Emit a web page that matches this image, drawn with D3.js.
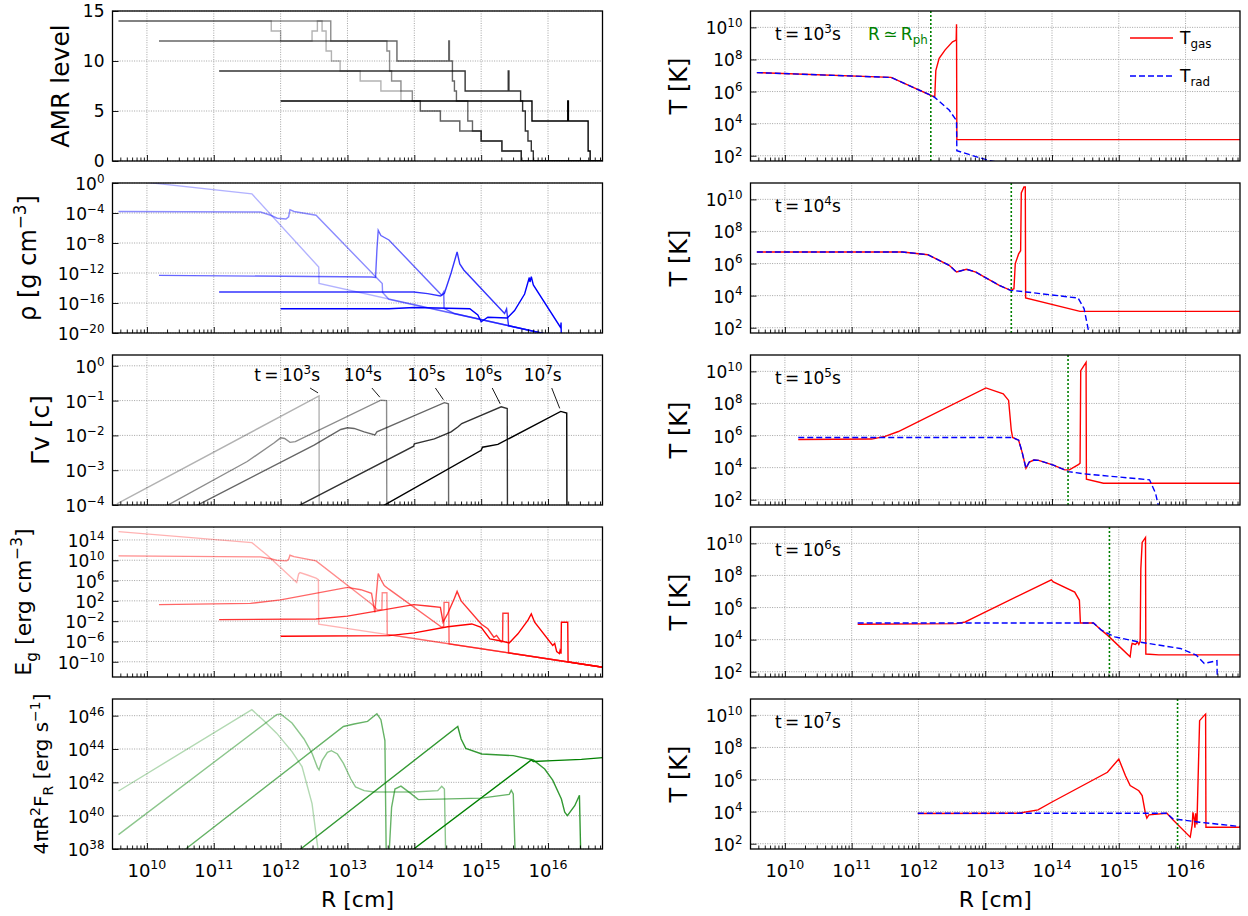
<!DOCTYPE html>
<html><head><meta charset="utf-8">
<script src="https://cdn.jsdelivr.net/npm/d3@7"></script>
<style>
body{margin:0;background:#fff}
svg{display:block}
text{font-family:"DejaVu Sans",sans-serif;fill:#000}
</style>
</head><body>
<svg id="fig" width="1248" height="916"></svg>
<script>
// ---------- snapshot times (log10 t [s]) and shared styling per snapshot ----------
const snapTimes = ["3", "4", "5", "6", "7"];
const snapAlpha = [0.3, 0.45, 0.6, 0.8, 1.0];

// ---------- AMR level vs log10 R [cm] (step-after) ----------
const amr_t3 = [[9.575,14],[11.86,13],[12.0,12],[12.47,13],[12.55,14],[12.62,13],[12.68,11],[12.76,10],[12.89,9],[13.19,8],[13.5,7],[13.8,6],[14.09,5],[14.39,4],[14.68,3],[15.0,2],[15.31,1],[15.6,0],[16.9,0]];
const amr_t4 = [[9.575,14],[12.75,12],[13.59,11],[13.63,9],[13.66,8],[13.8,7],[13.97,6],[14.09,5],[14.39,4],[14.68,3],[15.0,2],[15.31,1],[15.6,0],[16.9,0]];
const amr_t5 = [[10.18,12],[13.74,10],[14.515,12],[14.525,10],[14.57,8],[14.6,7],[14.63,6],[14.8,4],[14.87,3],[15.0,2],[15.31,1],[15.6,0],[16.9,0]];
const amr_t6 = [[11.08,9],[14.76,7],[15.405,9],[15.415,7],[15.59,6],[15.62,5],[15.66,3],[15.7,2],[15.75,1],[15.78,0],[16.9,0]];
const amr_t7 = [[12.0,6],[15.76,4],[16.295,6],[16.305,4],[16.6,1],[16.63,0],[16.9,0]];

// ---------- density: [log10 R, log10 rho] ----------
const rho_t3 = [[9.575,0.5],[11.57,-1.45],[12.57,-11.2],[12.575,-13.4],[16.0,-20.2]];
const rho_t4 = [[9.575,-3.8],[11.7,-3.87],[11.85,-4.3],[11.95,-4.7],[12.08,-4.8],[12.12,-4.5],[12.14,-3.56],[12.2,-3.8],[12.53,-4.3],[13.52,-13.4],[13.525,-14.6],[13.62,-15.5],[16.0,-20.2]];
const rho_t5 = [[10.18,-12.31],[13.36,-12.53],[13.42,-12.6],[13.44,-9.0],[13.46,-6.3],[13.5,-7.0],[13.62,-7.6],[14.41,-14.98],[14.44,-14.5],[14.445,-16.7],[14.6,-17.4],[16.0,-20.2]];
const rho_t6 = [[11.08,-14.53],[13.99,-14.53],[14.2,-14.75],[14.39,-15.07],[14.45,-14.7],[14.55,-12.0],[14.64,-9.2],[14.68,-10.8],[14.74,-11.6],[15.35,-17.4],[15.38,-16.8],[15.39,-17.6],[15.41,-19.04],[16.0,-20.2]];
const rho_t7 = [[12.0,-16.76],[13.62,-16.76],[14.0,-16.6],[14.5,-16.7],[14.83,-16.76],[14.95,-17.6],[15.0,-18.5],[15.1,-17.9],[15.39,-18.0],[15.5,-17.0],[15.65,-14.8],[15.72,-12.6],[15.73,-13.2],[15.75,-12.5],[15.78,-13.6],[16.19,-19.3],[16.195,-18.6],[16.2,-21]];

// ---------- four-velocity: [log10 R, log10 (Gamma v / c)] ----------
const gv_t3 = [[9.55,-3.97],[12.575,-0.865],[12.578,-6]];
const gv_t4 = [[10.25,-4.07],[11.5,-2.75],[11.9,-2.22],[12.0,-2.07],[12.06,-2.09],[12.14,-2.2],[12.22,-2.18],[13.5,-0.99],[13.585,-1.0],[13.59,-6]];
const gv_t5 = [[10.7,-4.06],[12.5,-2.28],[12.9,-1.83],[13.0,-1.78],[13.1,-1.8],[13.25,-1.9],[13.41,-1.99],[13.44,-1.9],[14.45,-1.06],[14.51,-1.09],[14.515,-6]];
const gv_t6 = [[12.23,-4.06],[13.99,-2.31],[14.0,-2.24],[14.3,-2.1],[14.55,-1.9],[14.65,-1.76],[14.71,-1.66],[15.3,-1.18],[15.39,-1.23],[15.395,-6]];
const gv_t7 = [[13.5,-4.06],[15.0,-2.43],[15.02,-2.34],[15.25,-2.26],[16.19,-1.31],[16.28,-1.36],[16.285,-6]];

// ---------- radiation energy density: [log10 R, log10 E_g] ----------
const eg_t3 = [[9.575,15.63],[11.57,13.48],[11.8,11.0],[12.24,5.63],[12.27,7.3],[12.29,7.59],[12.4,7.1],[12.53,6.48],[12.565,6.2],[12.57,-2.6],[16.82,-11.07]];
const eg_t4 = [[9.575,10.86],[11.7,10.66],[11.85,10.3],[11.94,10.0],[12.09,9.88],[12.12,10.2],[12.14,10.99],[12.2,10.7],[12.53,9.88],[13.36,1.38],[13.45,0.2],[13.515,0.3],[13.52,3.6],[13.59,3.6],[13.595,-4.6],[16.82,-11.07]];
const eg_t5 = [[10.18,1.25],[11.55,1.5],[12.0,2.2],[13.0,4.65],[13.2,4.2],[13.36,3.47],[13.41,-0.26],[13.43,3.0],[13.46,7.4],[13.5,6.2],[13.55,5.0],[13.62,4.3],[14.41,-3.2],[14.44,-3.0],[14.445,1.7],[14.515,1.7],[14.52,-6.47],[16.82,-11.07]];
const eg_t6 = [[11.08,-1.7],[12.53,-1.57],[13.0,-1.0],[13.99,1.25],[14.2,1.0],[14.39,0.72],[14.43,-2.2],[14.5,-0.5],[14.6,2.5],[14.64,3.86],[14.7,2.0],[15.0,-2.55],[15.1,-3.5],[15.19,-5.16],[15.23,-4.8],[15.3,-6.1],[15.32,-6.0],[15.325,-0.45],[15.405,-0.45],[15.41,-8.25],[16.82,-11.07]];
const eg_t7 = [[12.0,-4.97],[13.62,-4.84],[14.0,-4.3],[14.5,-3.1],[14.86,-2.55],[15.0,-3.2],[15.13,-5.5],[15.3,-5.9],[15.42,-6.3],[15.55,-4.5],[15.7,-1.8],[15.75,-0.58],[15.8,-2.2],[16.07,-6.8],[16.1,-6.4],[16.13,-8.0],[16.17,-8.4],[16.18,-7.8],[16.195,-8.4],[16.2,-2.2],[16.295,-2.2],[16.3,-10.03],[16.82,-11.07]];

// ---------- radiative luminosity: [log10 R, log10 4 pi R^2 F_R] ----------
const lum_t3 = [[9.575,41.48],[11.57,46.36],[11.75,45.7],[11.94,44.95],[12.17,43.84],[12.32,42.94],[12.47,40.72],[12.575,37.5]];
const lum_t4 = [[9.575,38.86],[11.94,46.06],[12.0,46.1],[12.17,45.56],[12.35,44.6],[12.47,43.74],[12.55,42.9],[12.575,42.75],[12.62,43.3],[12.7,43.8],[12.76,43.9],[12.85,43.7],[12.94,43.14],[13.05,42.2],[13.12,41.73],[13.25,41.5],[13.4,41.42],[14.0,41.42],[14.35,41.5],[14.41,41.77],[14.45,41.6],[14.47,37.5]];
const lum_t5 = [[10.58,38],[12.94,45.35],[13.1,45.5],[13.3,45.66],[13.44,46.12],[13.5,45.76],[13.56,44.5],[13.58,37.5],[13.62,37.5],[13.66,40.5],[13.71,41.6],[13.8,41.77],[13.95,41.32],[14.06,40.96],[15.0,41.05],[15.42,41.28],[15.45,41.52],[15.48,41.3],[15.51,37.5]];
const lum_t6 = [[12.3,38],[14.65,45.35],[14.7,44.6],[14.77,44.04],[15.01,43.7],[15.48,43.6],[15.78,43.34],[15.95,42.8],[16.07,42.13],[16.2,41.0],[16.25,40.21],[16.29,40.0],[16.4,40.6],[16.47,41.22],[16.49,37.5]];
const lum_t7 = [[13.99,38],[15.75,43.34],[15.78,43.25],[16.07,43.3],[16.5,43.38],[16.82,43.48]];

// ---------- temperatures: [log10 R, log10 T] ----------
const trad_t3 = [[9.58,7.18],[11.59,6.88],[12.23,5.68],[12.46,4.85],[12.57,4.18],[12.575,2.31],[13.03,1.73],[13.3,1.5]];
const tgas_t3 = [[9.58,7.18],[11.59,6.88],[12.23,5.68],[12.245,5.7],[12.26,7.3],[12.31,8.07],[12.4,8.6],[12.51,9.1],[12.565,9.21],[12.57,10.2],[12.575,3.0],[16.82,3.0]];
const trad_t4 = [[9.58,6.72],[11.76,6.72],[12.14,6.55],[12.46,5.89],[12.57,5.47],[12.72,5.64],[12.86,5.47],[13.03,5.06],[13.21,4.64],[13.38,4.33],[13.61,4.23],[14.39,3.85],[14.48,3.19],[14.54,1.94],[14.56,1.5]];
const tgas_t4 = [[9.58,6.72],[11.76,6.72],[12.14,6.55],[12.46,5.89],[12.57,5.47],[12.72,5.64],[12.86,5.47],[13.03,5.06],[13.21,4.64],[13.38,4.33],[13.43,4.43],[13.45,6.0],[13.5,6.6],[13.53,6.8],[13.54,10.4],[13.58,10.77],[13.6,10.77],[13.605,3.85],[14.42,3.02],[16.82,3.02]];
const trad_t5 = [[10.2,5.88],[13.03,5.88],[13.41,5.88],[13.5,5.71],[13.55,5.0],[13.61,3.96],[13.66,4.35],[13.73,4.47],[13.8,4.45],[14.02,4.16],[14.19,3.86],[14.25,3.75],[14.48,3.61],[15.46,3.24],[15.55,2.41],[15.6,1.5]];
const tgas_t5 = [[10.2,5.75],[11.3,5.78],[11.5,5.95],[11.7,6.25],[13.01,8.97],[13.27,8.6],[13.35,8.19],[13.39,6.33],[13.41,5.88],[13.5,5.71],[13.55,5.0],[13.61,3.96],[13.66,4.35],[13.73,4.47],[13.8,4.45],[14.02,4.16],[14.19,3.86],[14.26,3.86],[14.4,4.2],[14.42,4.28],[14.43,10.04],[14.51,10.56],[14.515,3.28],[14.77,3.03],[16.82,3.03]];
const trad_t6 = [[11.09,5.04],[14.62,5.04],[14.74,4.59],[14.94,4.17],[15.29,3.86],[15.92,3.45],[16.16,3.04],[16.28,2.52],[16.47,2.69],[16.475,1.5]];
const tgas_t6 = [[11.09,4.96],[12.57,5.0],[12.7,5.1],[12.8,5.31],[13.99,7.73],[14.02,7.6],[14.34,6.96],[14.41,6.45],[14.425,5.04],[14.62,5.04],[14.74,4.59],[14.83,4.28],[15.17,2.93],[15.19,3.6],[15.2,3.76],[15.25,3.7],[15.28,3.85],[15.3,3.7],[15.32,3.9],[15.33,8.41],[15.35,10.06],[15.4,10.37],[15.405,3.1],[15.6,3.05],[16.82,3.05]];
const trad_t7 = [[11.99,3.9],[15.72,3.9],[15.81,3.55],[16.21,3.34],[16.82,3.07]];
const tgas_t7 = [[11.99,3.88],[13.5,3.9],[13.79,4.11],[14.0,4.6],[14.83,6.45],[15.0,7.28],[15.1,6.24],[15.17,5.62],[15.3,5.3],[15.35,5.0],[15.4,3.86],[15.42,3.6],[15.45,3.8],[15.72,3.9],[15.81,3.5],[16.07,2.41],[16.1,3.2],[16.11,3.96],[16.13,3.5],[16.14,3.0],[16.15,3.9],[16.17,3.2],[16.21,9.67],[16.28,10.0],[16.3,10.08],[16.305,3.03],[16.82,3.03]];

// photospheric radius (log10 R) per snapshot
const photoR = [12.185, 13.39, 14.24, 14.86, 15.88];

// axis tick values
const xDecades = [10, 11, 12, 13, 14, 15, 16];
const amrTicks = [0, 5, 10, 15];
const rhoTicks = [0, -4, -8, -12, -16, -20];
const gvTicks = [0, -1, -2, -3, -4];
const egTicks = [14, 10, 6, 2, -2, -6, -10];
const lumTicks = [46, 44, 42, 40, 38];
const tTicks = [10, 8, 6, 4, 2];

// ---------- layout ----------
const PH = 150;
const tops = [11, 183, 355, 527, 699];
const colL = [112.5, 602.5], colR = [750.5, 1240];
const xDom = [Math.pow(10, 9.485), Math.pow(10, 16.815)];
const FS = 17;          // tick-label size

const svg = d3.select("#fig");
const defs = svg.append("defs");
let clipCount = 0;

// writes mixed normal / superscript / subscript runs into a text element
function rich(textSel, parts, size) {
  let shift = 0;
  parts.forEach(p => {
    const target = p.sup ? -0.42 * size : p.sub ? 0.25 * size : 0;
    textSel.append("tspan")
      .attr("dy", target - shift)
      .attr("font-size", (p.sup || p.sub) ? 0.7 * size : size)
      .text(p.t);
    shift = target;
  });
  return textSel;
}
const minus = s => String(s).replace("-", "\u2212");
const pow10 = e => [{t: "10"}, {t: minus(e), sup: true}];

function panel(col, top, y, yTicks, yIsLog, ylab, bottom) {
  const x = d3.scaleLog().domain(xDom).range(col);
  const g = svg.append("g");
  const cid = "clip" + (clipCount++);
  defs.append("clipPath").attr("id", cid).append("rect")
    .attr("x", col[0]).attr("y", top).attr("width", col[1] - col[0]).attr("height", PH);

  // dotted grid
  const grid = g.append("g").attr("stroke", "#9a9a9a").attr("stroke-width", 0.9)
    .attr("stroke-dasharray", "1,1.4");
  xDecades.forEach(d => grid.append("line")
    .attr("x1", x(Math.pow(10, d))).attr("x2", x(Math.pow(10, d)))
    .attr("y1", top).attr("y2", top + PH));
  yTicks.forEach(v => {
    const yy = y(yIsLog ? Math.pow(10, v) : v);
    grid.append("line").attr("x1", col[0]).attr("x2", col[1]).attr("y1", yy).attr("y2", yy);
  });

  const plot = g.append("g").attr("clip-path", `url(#${cid})`);

  // bottom ticks (major + minor), pointing inward
  const xTickVals = [];
  for (let d = 9; d <= 16; d++) for (let k = 1; k <= 9; k++) {
    const v = k * Math.pow(10, d);
    if (v >= xDom[0] && v <= xDom[1]) xTickVals.push(v);
  }
  const isMajor = v => Math.abs(Math.log10(v) - Math.round(Math.log10(v))) < 1e-9;
  const ax = g.append("g").attr("transform", `translate(0,${top + PH})`)
    .call(d3.axisBottom(x).tickValues(xTickVals).tickSizeInner(-6).tickSizeOuter(0).tickFormat(""));
  ax.select(".domain").remove();
  ax.selectAll(".tick line").attr("y2", d => isMajor(d) ? -6 : -3.5).attr("stroke", "#000").attr("stroke-width", 0.9);

  const ay = g.append("g").attr("transform", `translate(${col[0]},0)`)
    .call(d3.axisLeft(y).tickValues(yTicks.map(v => yIsLog ? Math.pow(10, v) : v))
      .tickSizeInner(-6).tickSizeOuter(0).tickFormat(""));
  ay.select(".domain").remove();
  ay.selectAll(".tick line").attr("stroke", "#000").attr("stroke-width", 0.9);

  // y tick labels
  yTicks.forEach(v => {
    const yy = y(yIsLog ? Math.pow(10, v) : v);
    const t = g.append("text").attr("x", col[0] - 8).attr("y", yy + (yIsLog ? 7 : 6))
      .attr("text-anchor", "end").attr("font-size", FS);
    rich(t, yIsLog ? pow10(v) : [{t: String(v)}], FS);
  });

  // x tick labels on the bottom row
  if (bottom) {
    xDecades.forEach(d => {
      const t = g.append("text").attr("x", x(Math.pow(10, d))).attr("y", top + PH + 28)
        .attr("text-anchor", "middle").attr("font-size", FS + 1);
      rich(t, pow10(d), FS + 1);
    });
    const t = g.append("text").attr("x", (col[0] + col[1]) / 2).attr("y", top + PH + 58)
      .attr("text-anchor", "middle").attr("font-size", 22);
    rich(t, [{t: "R [cm]"}], 22);
  }

  // y label (baseline position and size per panel)
  const lab = g.append("text")
    .attr("transform", `translate(${ylab.x},${top + PH / 2}) rotate(-90)`)
    .attr("text-anchor", "middle").attr("font-size", ylab.size);
  rich(lab, ylab.parts, ylab.size);

  // frame
  g.append("rect").attr("x", col[0]).attr("y", top).attr("width", col[1] - col[0]).attr("height", PH)
    .attr("fill", "none").attr("stroke", "#000").attr("stroke-width", 1.3);

  return {x, y, plot, g};
}

const logLine = (x, y) => d3.line().x(d => x(Math.pow(10, d[0]))).y(d => y(Math.pow(10, d[1])));

// ---------- AMR level ----------
{
  const y = d3.scaleLinear().domain([0, 15]).range([tops[0] + PH, tops[0]]);
  const p = panel(colL, tops[0], y, amrTicks, false,
    {x: 69, size: 25, parts: [{t: "AMR level"}]}, false);
  const line = d3.line().x(d => p.x(Math.pow(10, d[0]))).y(d => y(d[1])).curve(d3.curveStepAfter);
  [amr_t3, amr_t4, amr_t5, amr_t6, amr_t7].forEach((s, i) =>
    p.plot.append("path").attr("d", line(s)).attr("fill", "none")
      .attr("stroke", "#000").attr("stroke-opacity", snapAlpha[i]).attr("stroke-width", 1.4));
}

// ---------- density ----------
{
  const y = d3.scaleLog().domain([1e-20, 1]).range([tops[1] + PH, tops[1]]);
  const p = panel(colL, tops[1], y, rhoTicks, true,
    {x: 36, size: 24, parts: [{t: "\u03C1 [g cm"}, {t: "\u22123", sup: true}, {t: "]"}]}, false);
  const line = logLine(p.x, y);
  [rho_t3, rho_t4, rho_t5, rho_t6, rho_t7].forEach((s, i) =>
    p.plot.append("path").attr("d", line(s)).attr("fill", "none")
      .attr("stroke", "#0000ff").attr("stroke-opacity", snapAlpha[i]).attr("stroke-width", 1.4));
}

// ---------- Gamma v ----------
{
  const y = d3.scaleLog().domain([1e-4, Math.pow(10, 0.31)]).range([tops[2] + PH, tops[2]]);
  const p = panel(colL, tops[2], y, gvTicks, true,
    {x: 49, size: 25, parts: [{t: "\u0393v [c]"}]}, false);
  const line = logLine(p.x, y);
  const all = [gv_t3, gv_t4, gv_t5, gv_t6, gv_t7];
  all.forEach((s, i) =>
    p.plot.append("path").attr("d", line(s)).attr("fill", "none")
      .attr("stroke", "#000").attr("stroke-opacity", snapAlpha[i]).attr("stroke-width", 1.4));
  // snapshot labels with leader lines to each velocity peak
  all.forEach((s, i) => {
    const peak = s.reduce((a, b) => b[1] > a[1] ? b : a);
    const px = p.x(Math.pow(10, peak[0])), py = y(Math.pow(10, peak[1]));
    p.g.append("line").attr("x1", px - 9).attr("y1", tops[2] + 33).attr("x2", px - 1).attr("y2", py - 3)
      .attr("stroke", "#000").attr("stroke-width", 0.9);
    const t = p.g.append("text").attr("x", px + 1).attr("y", tops[2] + 26)
      .attr("text-anchor", "end").attr("font-size", FS);
    const head = i === 0 ? "t\u2009=\u200910" : "10";
    rich(t, [{t: head}, {t: snapTimes[i], sup: true}, {t: "s"}], FS);
  });
}

// ---------- radiation energy density ----------
{
  const y = d3.scaleLog().domain([1e-13, Math.pow(10, 16.55)]).range([tops[3] + PH, tops[3]]);
  const p = panel(colL, tops[3], y, egTicks, true,
    {x: 31, size: 22, parts: [{t: "E"}, {t: "g", sub: true}, {t: " [erg cm"}, {t: "\u22123", sup: true}, {t: "]"}]}, false);
  const line = logLine(p.x, y);
  [eg_t3, eg_t4, eg_t5, eg_t6, eg_t7].forEach((s, i) =>
    p.plot.append("path").attr("d", line(s)).attr("fill", "none")
      .attr("stroke", "#ff0000").attr("stroke-opacity", snapAlpha[i]).attr("stroke-width", 1.4));
}

// ---------- luminosity ----------
{
  const y = d3.scaleLog().domain([1e38, 1e47]).range([tops[4] + PH, tops[4]]);
  const p = panel(colL, tops[4], y, lumTicks, true,
    {x: 48, size: 20, parts: [{t: "4\u03C0R"}, {t: "2", sup: true}, {t: "F"}, {t: "R", sub: true}, {t: " [erg s"}, {t: "\u22121", sup: true}, {t: "]"}]},
    true);
  const line = logLine(p.x, y);
  [lum_t3, lum_t4, lum_t5, lum_t6, lum_t7].forEach((s, i) =>
    p.plot.append("path").attr("d", line(s)).attr("fill", "none")
      .attr("stroke", "#008000").attr("stroke-opacity", snapAlpha[i]).attr("stroke-width", 1.4));
}

// ---------- temperature panels ----------
const tgasAll = [tgas_t3, tgas_t4, tgas_t5, tgas_t6, tgas_t7];
const tradAll = [trad_t3, trad_t4, trad_t5, trad_t6, trad_t7];
tgasAll.forEach((gas, i) => {
  const top = tops[i];
  const y = d3.scaleLog().domain([Math.pow(10, 1.67), Math.pow(10, 11.02)]).range([top + PH, top]);
  const p = panel(colR, top, y, tTicks, true, {x: 687, size: 24, parts: [{t: "T [K]"}]}, i === 4);
  const line = logLine(p.x, y);
  p.plot.append("path").attr("d", line(gas)).attr("fill", "none")
    .attr("stroke", "#ff0000").attr("stroke-width", 1.4);
  p.plot.append("path").attr("d", line(tradAll[i])).attr("fill", "none")
    .attr("stroke", "#0000ff").attr("stroke-width", 1.4).attr("stroke-dasharray", "6,3");
  const xr = p.x(Math.pow(10, photoR[i]));
  p.plot.append("line").attr("x1", xr).attr("x2", xr).attr("y1", top).attr("y2", top + PH)
    .attr("stroke", "#008000").attr("stroke-width", 1.6).attr("stroke-dasharray", "2,2");
  const t = p.g.append("text").attr("x", 775).attr("y", top + 29).attr("font-size", FS);
  rich(t, [{t: "t\u2009=\u200910"}, {t: snapTimes[i], sup: true}, {t: "s"}], FS);

  if (i === 0) {
    const r = p.g.append("text").attr("x", 868).attr("y", top + 29).attr("font-size", FS)
      .style("fill", "#008000");
    rich(r, [{t: "R\u2009\u2243\u2009R"}, {t: "ph", sub: true}], FS);
    // legend
    p.g.append("line").attr("x1", 1130).attr("x2", 1173).attr("y1", 38).attr("y2", 38)
      .attr("stroke", "#ff0000").attr("stroke-width", 1.4);
    rich(p.g.append("text").attr("x", 1180).attr("y", 44).attr("font-size", FS),
      [{t: "T"}, {t: "gas", sub: true}], FS);
    p.g.append("line").attr("x1", 1130).attr("x2", 1173).attr("y1", 76).attr("y2", 76)
      .attr("stroke", "#0000ff").attr("stroke-width", 1.4).attr("stroke-dasharray", "6,3");
    rich(p.g.append("text").attr("x", 1180).attr("y", 82).attr("font-size", FS),
      [{t: "T"}, {t: "rad", sub: true}], FS);
  }
});
</script>
</body></html>
